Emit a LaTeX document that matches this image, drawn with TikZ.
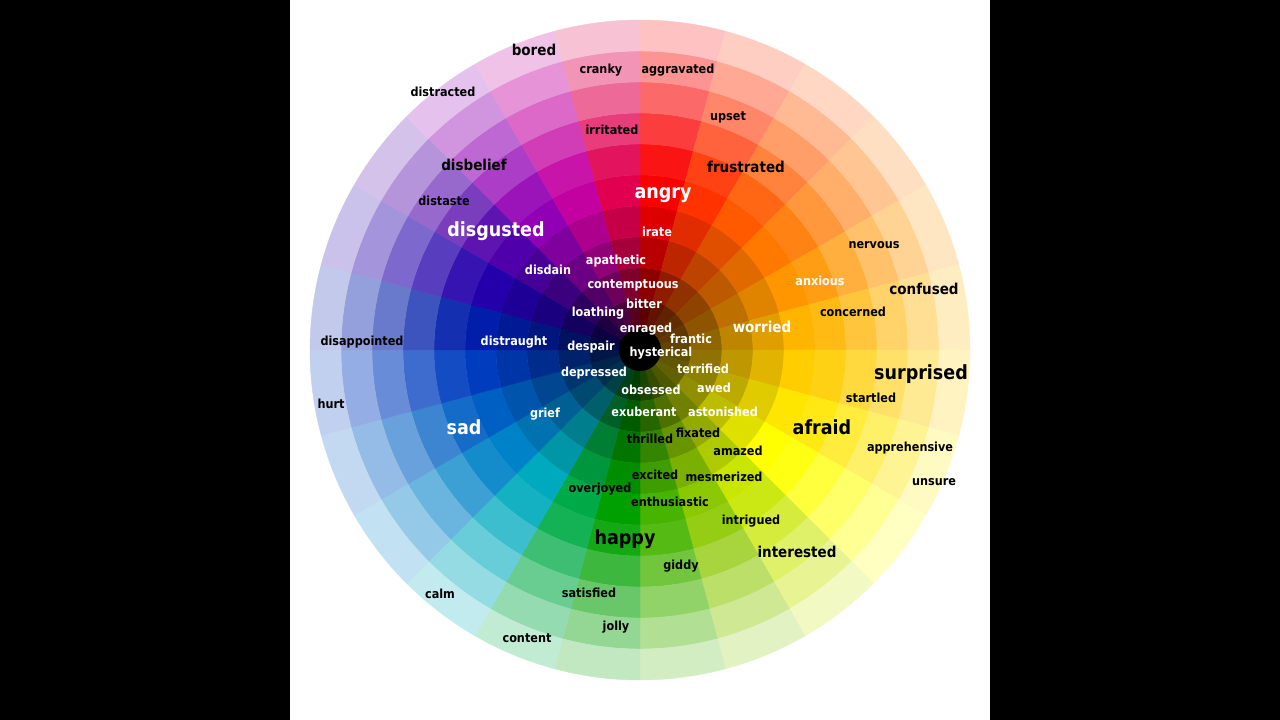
\documentclass[tikz,border=0pt]{standalone}
\usepackage{fontspec}
\setmainfont{DejaVu Sans Condensed}
\definecolor{hue0}{RGB}{250,0,0}
\definecolor{hue1}{RGB}{255,50,0}
\definecolor{hue2}{RGB}{255,90,0}
\definecolor{hue3}{RGB}{255,120,0}
\definecolor{hue4}{RGB}{255,150,0}
\definecolor{hue5}{RGB}{255,180,0}
\definecolor{hue6}{RGB}{255,205,0}
\definecolor{hue7}{RGB}{255,230,0}
\definecolor{hue8}{RGB}{255,255,0}
\definecolor{hue9}{RGB}{200,230,0}
\definecolor{hue10}{RGB}{140,200,0}
\definecolor{hue11}{RGB}{70,180,0}
\definecolor{hue12}{RGB}{0,160,0}
\definecolor{hue13}{RGB}{0,170,70}
\definecolor{hue14}{RGB}{0,170,190}
\definecolor{hue15}{RGB}{0,130,200}
\definecolor{hue16}{RGB}{0,95,195}
\definecolor{hue17}{RGB}{0,60,190}
\definecolor{hue18}{RGB}{0,30,170}
\definecolor{hue19}{RGB}{35,0,170}
\definecolor{hue20}{RGB}{80,0,170}
\definecolor{hue21}{RGB}{145,0,180}
\definecolor{hue22}{RGB}{195,0,160}
\definecolor{hue23}{RGB}{225,0,80}
\tikzset{
  sm/.style={font=\bfseries\fontsize{12.5}{13}\selectfont, inner sep=0pt, text depth=0pt, text=black},
  md/.style={font=\bfseries\fontsize{15}{16}\selectfont, inner sep=0pt, text depth=0pt, text=black},
  lg/.style={font=\bfseries\fontsize{19.5}{20}\selectfont, inner sep=0pt, text depth=0pt, text=black},
  wt/.style={text=white}
}
\begin{document}
\begin{tikzpicture}[x=1pt,y=1pt]
  \useasboundingbox (0,0) rectangle (1280,720);
  \fill[black] (0,0) rectangle (1280,720);
  \fill[white] (290,0) rectangle (990,720);
  \coordinate (c) at (640,370);
  \foreach \s in {0,...,23}{
    \pgfmathsetmacro{\a}{90-15*\s}
    \pgfmathsetmacro{\b}{75-15*\s}
    \foreach \r/\p/\q in {1/38/black,2/56/black,3/74/black,4/88/black,5/100/black,6/92/white,7/76/white,8/59/white,9/42/white,10/24/white}{
      \pgfmathsetmacro{\ri}{20+31*(\r-1)}
      \pgfmathsetmacro{\ro}{20+31*\r}
      \path[shift={(c)}, fill=hue\s!\p!\q, draw=hue\s!\p!\q, line width=0.4pt]
        (\a:\ri) arc[start angle=\a, end angle=\b, radius=\ri]
        -- (\b:\ro) arc[start angle=\b, end angle=\a, radius=\ro] -- cycle;
    }
  }
  \fill[black] (c) circle (21);
  \node [lg,wt] (angry) at (663,527) {angry};
  \node [lg,wt] (disgusted) at (496,491) {disgusted};
  \node [lg] (surprised) at (921,348) {surprised};
  \node [lg,wt] (sad) at (464,293) {sad};
  \node [lg] (afraid) at (822,293) {afraid};
  \node [lg] (happy) at (625,183) {happy};
  \node [md] (bored) at (534,670) {bored};
  \node [md] (disbelief) at (474,555) {disbelief};
  \node [md] (frustrated) at (746,553) {frustrated};
  \node [md] (confused) at (924,431) {confused};
  \node [md,wt] (worried) at (762,393) {worried};
  \node [md] (interested) at (797,168) {interested};
  \node [sm] (cranky) at (601,651) {cranky};
  \node [sm] (aggravated) at (678,651) {aggravated};
  \node [sm] (distracted) at (443,628) {distracted};
  \node [sm] (upset) at (728,604) {upset};
  \node [sm] (irritated) at (612,590) {irritated};
  \node [sm] (distaste) at (444,519) {distaste};
  \node [sm,wt] (irate) at (657,488) {irate};
  \node [sm] (nervous) at (874,475) {nervous};
  \node [sm,wt] (apathetic) at (616,460) {apathetic};
  \node [sm,wt] (disdain) at (548,450) {disdain};
  \node [sm,wt] (anxious) at (820,439) {anxious};
  \node [sm,wt] (contemptuous) at (633,436) {contemptuous};
  \node [sm,wt] (bitter) at (644,416) {bitter};
  \node [sm,wt] (loathing) at (598,408) {loathing};
  \node [sm] (concerned) at (853,408) {concerned};
  \node [sm,wt] (enraged) at (646,392) {enraged};
  \node [sm] (disappointed) at (362,379) {disappointed};
  \node [sm,wt] (distraught) at (514,379) {distraught};
  \node [sm,wt] (despair) at (591,374) {despair};
  \node [sm,wt] (frantic) at (691,381) {frantic};
  \node [sm,wt] (hysterical) at (661,368) {hysterical};
  \node [sm,wt] (depressed) at (594,348) {depressed};
  \node [sm,wt] (terrified) at (703,351) {terrified};
  \node [sm,wt] (obsessed) at (651,330) {obsessed};
  \node [sm,wt] (awed) at (714,332) {awed};
  \node [sm] (startled) at (871,322) {startled};
  \node [sm] (hurt) at (331,316) {hurt};
  \node [sm,wt] (grief) at (545,307) {grief};
  \node [sm,wt] (exuberant) at (644,308) {exuberant};
  \node [sm,wt] (astonished) at (723,308) {astonished};
  \node [sm] (fixated) at (698,287) {fixated};
  \node [sm] (thrilled) at (650,281) {thrilled};
  \node [sm] (amazed) at (738,269) {amazed};
  \node [sm] (apprehensive) at (910,273) {apprehensive};
  \node [sm] (excited) at (655,245) {excited};
  \node [sm] (mesmerized) at (724,243) {mesmerized};
  \node [sm] (unsure) at (934,238) {unsure};
  \node [sm] (overjoyed) at (600,232) {overjoyed};
  \node [sm] (enthusiastic) at (670,218) {enthusiastic};
  \node [sm] (intrigued) at (751,200) {intrigued};
  \node [sm] (giddy) at (681,155) {giddy};
  \node [sm] (calm) at (440,126) {calm};
  \node [sm] (satisfied) at (589,127) {satisfied};
  \node [sm] (jolly) at (616,94) {jolly};
  \node [sm] (content) at (527,82) {content};
\end{tikzpicture}
\end{document}
